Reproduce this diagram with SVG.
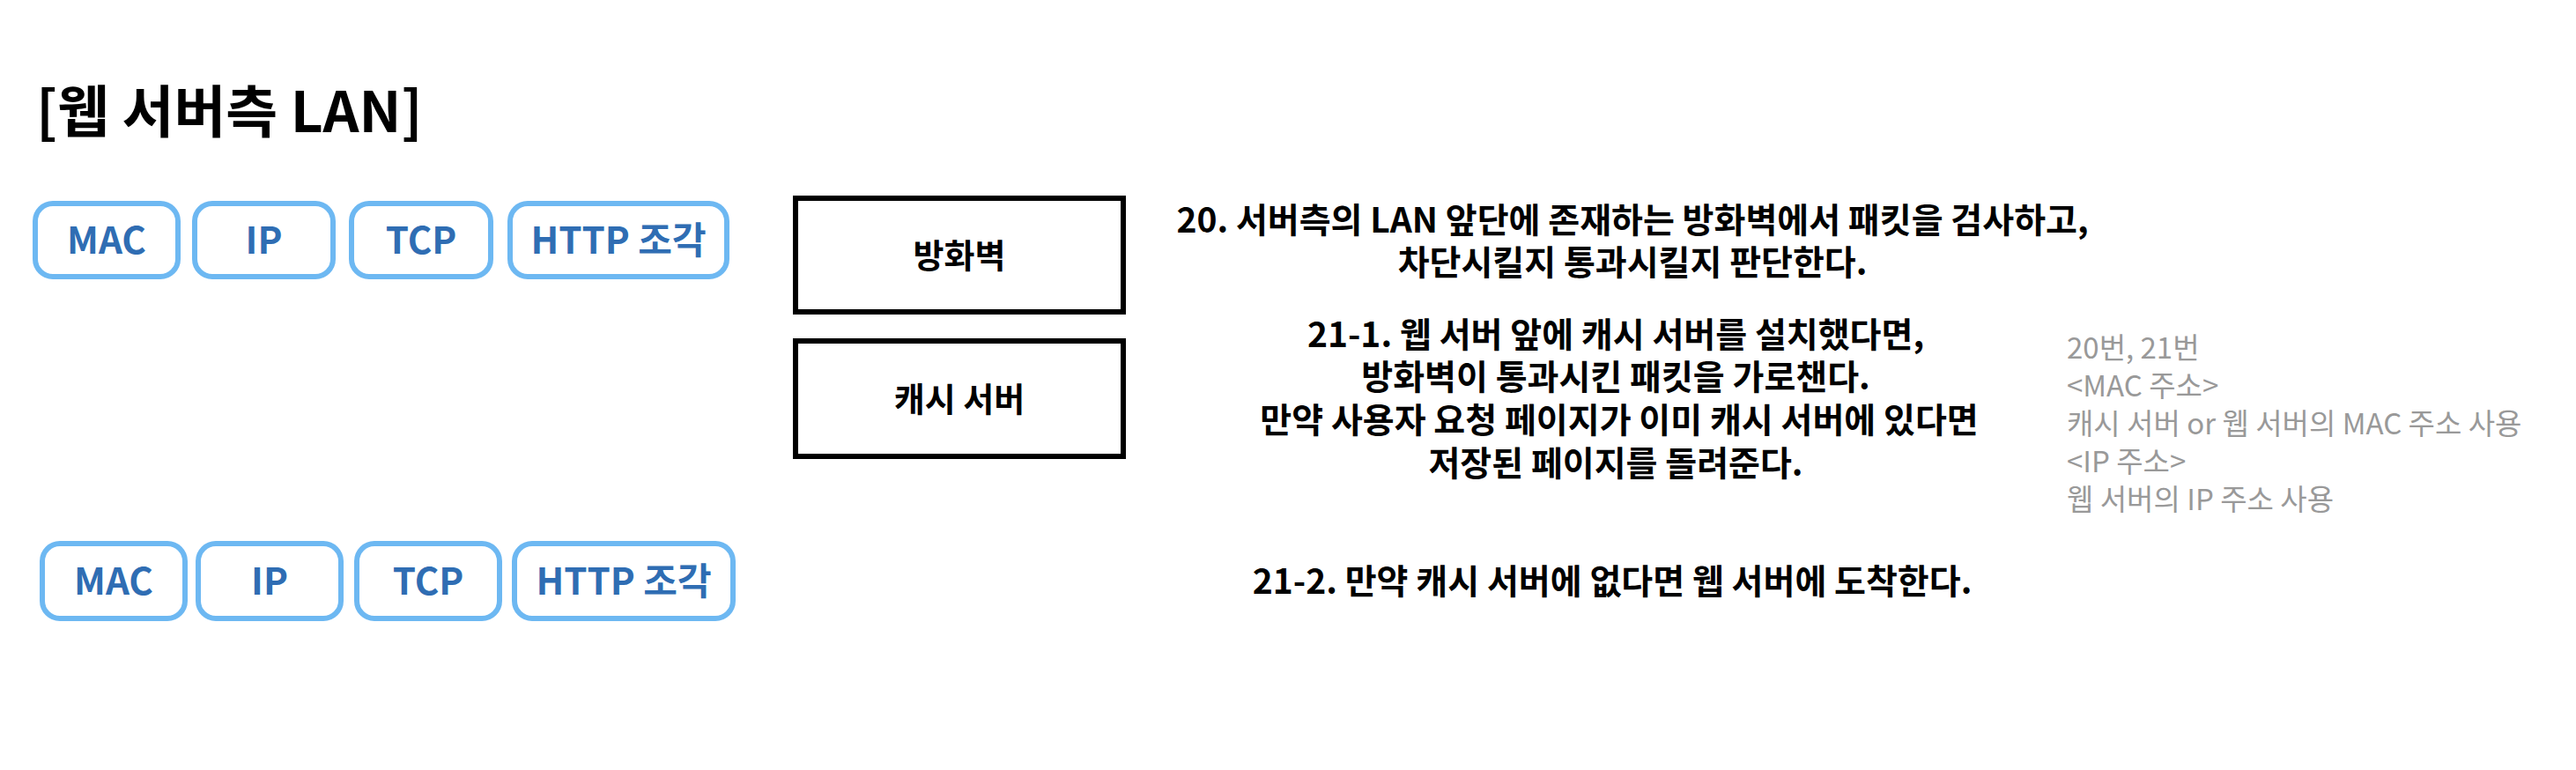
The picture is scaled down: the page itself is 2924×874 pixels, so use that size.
<svg xmlns="http://www.w3.org/2000/svg" width="2924" height="874" viewBox="0 0 2924 874">
<style>
text{font-family:"Noto Sans CJK KR","Noto Sans",sans-serif}
.title{font-size:64px;font-weight:700;fill:#000}
.chip rect{fill:#fff;stroke:#6db8f2;stroke-width:6}
.chip text{font-size:42px;font-weight:700;fill:#2f6db3;text-anchor:middle}
.box rect{fill:#fff;stroke:#000;stroke-width:6}
.box text{font-size:38px;font-weight:700;fill:#000;text-anchor:middle}
.desc{font-size:39px;font-weight:700;fill:#000;text-anchor:middle}
.note{font-size:33px;fill:#999}
.note .b{font-weight:700}
</style>
<rect width="2924" height="874" fill="#fff"/>
<g id="title"><text class="title" x="41" y="150">[웹 서버측 LAN]</text></g>

<g id="top-mac" class="chip"><rect x="40" y="231" width="162" height="83" rx="20"/><text x="121" y="288">MAC</text></g>
<g id="top-ip" class="chip"><rect x="221" y="231" width="157" height="83" rx="20"/><text x="299.5" y="288">IP</text></g>
<g id="top-tcp" class="chip"><rect x="399" y="231" width="158" height="83" rx="20"/><text x="478" y="288">TCP</text></g>
<g id="top-http" class="chip"><rect x="579" y="231" width="246" height="83" rx="20"/><text x="702" y="288">HTTP 조각</text></g>

<g id="bottom-mac" class="chip"><rect x="48" y="617" width="162" height="85" rx="20"/><text x="129" y="675">MAC</text></g>
<g id="bottom-ip" class="chip"><rect x="225" y="617" width="162" height="85" rx="20"/><text x="306" y="675">IP</text></g>
<g id="bottom-tcp" class="chip"><rect x="405" y="617" width="162" height="85" rx="20"/><text x="486" y="675">TCP</text></g>
<g id="bottom-http" class="chip"><rect x="584" y="617" width="248" height="85" rx="20"/><text x="708" y="675">HTTP 조각</text></g>

<g id="firewall" class="box"><rect x="903" y="225" width="372" height="129"/><text x="1089" y="304">방화벽</text></g>
<g id="cache-server" class="box"><rect x="903" y="387" width="372" height="131"/><text x="1089" y="467">캐시 서버</text></g>

<g id="connectors"/>

<g id="step20">
<text class="desc" x="1853" y="264">20. 서버측의 LAN 앞단에 존재하는 방화벽에서 패킷을 검사하고,</text>
<text class="desc" x="1853" y="312">차단시킬지 통과시킬지 판단한다.</text>
</g>
<g id="step21-1">
<text class="desc" x="1834" y="394">21-1. 웹 서버 앞에 캐시 서버를 설치했다면,</text>
<text class="desc" x="1834" y="442">방화벽이 통과시킨 패킷을 가로챈다.</text>
<text class="desc" x="1838" y="491">만약 사용자 요청 페이지가 이미 캐시 서버에 있다면</text>
<text class="desc" x="1834" y="540">저장된 페이지를 돌려준다.</text>
</g>
<g id="step21-2">
<text class="desc" x="1830" y="674">21-2. 만약 캐시 서버에 없다면 웹 서버에 도착한다.</text>
</g>
<g id="note">
<text class="note b" x="2346" y="407">20번, 21번</text>
<text class="note" x="2346" y="450">&lt;MAC 주소&gt;</text>
<text class="note" x="2346" y="493">캐시 서버 or 웹 서버의 MAC 주소 사용</text>
<text class="note" x="2346" y="536">&lt;IP 주소&gt;</text>
<text class="note" x="2346" y="579">웹 서버의 IP 주소 사용</text>
</g>
</svg>
